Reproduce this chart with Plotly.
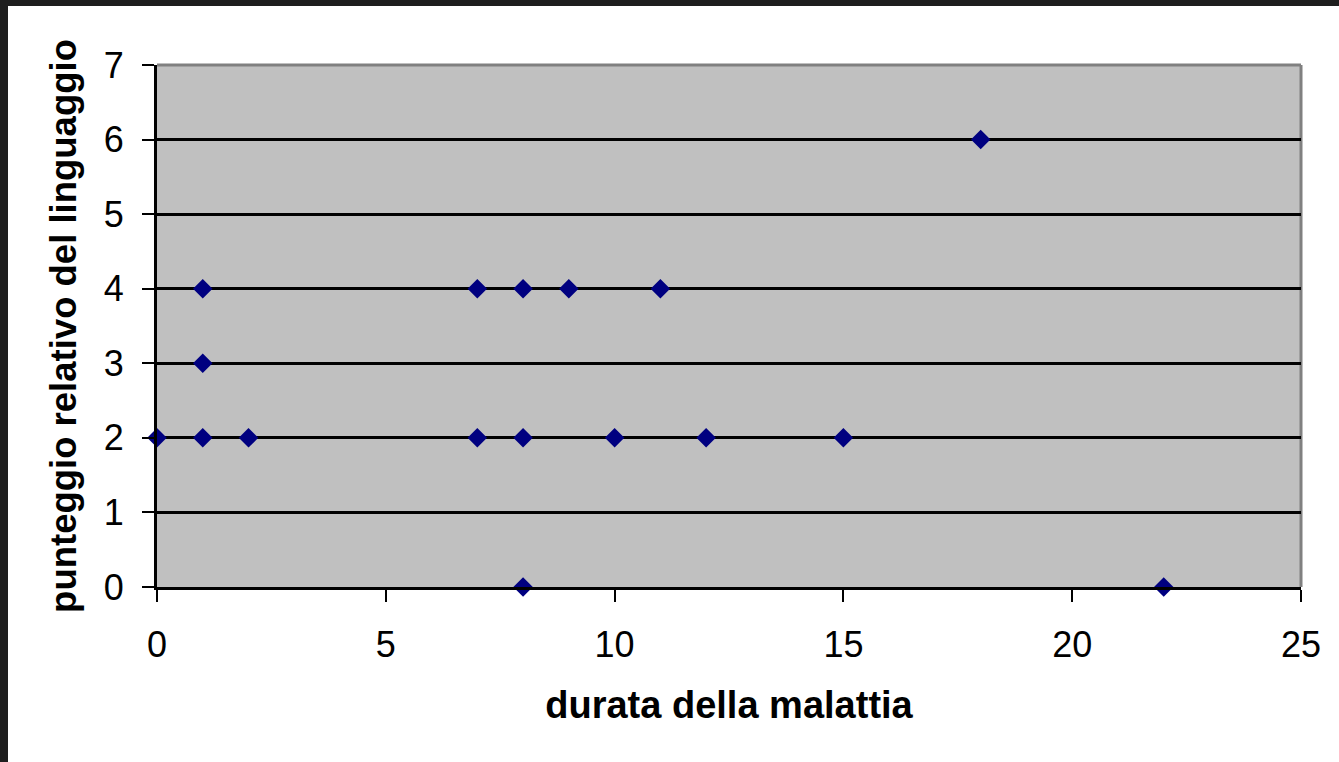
import plotly.graph_objects as go

# Durata della malattia (anni) e punteggio del linguaggio
durata = [0, 1, 1, 1, 2, 7, 7, 8, 8, 8, 9, 10, 11, 12, 15, 18, 22]
punteggio = [2, 2, 3, 4, 2, 4, 2, 4, 2, 0, 4, 2, 4, 2, 2, 6, 0]

x_ticks = [0, 5, 10, 15, 20, 25]
y_ticks = [0, 1, 2, 3, 4, 5, 6, 7]

W, H = 1339, 762
L, R, T, B = 157, 38, 65, 175
pw, ph = W - L - R, H - T - B

font_family = "Liberation Sans, Arial, sans-serif"

fig = go.Figure()
fig.add_trace(go.Scatter(
    x=durata, y=punteggio, mode="markers",
    marker=dict(symbol="diamond", size=15, color="#000080",
                line=dict(width=0)),
    cliponaxis=False, showlegend=False,
))

fig.update_layout(
    width=W, height=H,
    margin=dict(l=L, r=R, t=T, b=B, autoexpand=False),
    paper_bgcolor="white", plot_bgcolor="#c0c0c0",
    font=dict(family=font_family, color="black", size=36),
    xaxis=dict(
        range=[0, 25], tickvals=x_ticks, ticks="outside", ticklen=12,
        tickwidth=2, tickcolor="black", showgrid=False, zeroline=False,
        showline=True, linecolor="black", linewidth=3,
        tickfont=dict(size=36), ticklabelstandoff=12,
        title=dict(text="<b>durata della malattia</b>",
                   font=dict(size=38), standoff=28),
    ),
    yaxis=dict(
        range=[0, 7], tickvals=y_ticks, ticks="outside", ticklen=12,
        tickwidth=2, tickcolor="black", showgrid=True, gridcolor="black",
        gridwidth=3, zeroline=False, showline=True, linecolor="black",
        linewidth=3, tickfont=dict(size=36), ticklabelstandoff=11,
        title=dict(text="<b>punteggio relativo del linguaggio</b>",
                   font=dict(size=36.5), standoff=16),
    ),
)

# Bordo grigio superiore e destro dell'area del grafico
fig.add_shape(type="line", xref="paper", yref="paper", x0=0, x1=1, y0=1, y1=1,
              line=dict(color="#808080", width=3), layer="below")
fig.add_shape(type="line", xref="paper", yref="paper", x0=1, x1=1, y0=0, y1=1,
              line=dict(color="#808080", width=3), layer="below")

# Cornice scura sul lato sinistro e in alto
def px_x(p):
    return (p - L) / pw

def px_y(p):
    return (H - B - p) / ph

fig.add_shape(type="rect", xref="paper", yref="paper",
              x0=px_x(0), x1=px_x(8), y0=px_y(0), y1=px_y(H),
              fillcolor="#1e1e1e", line=dict(width=0), layer="above")
fig.add_shape(type="rect", xref="paper", yref="paper",
              x0=px_x(0), x1=px_x(W), y0=px_y(0), y1=px_y(6),
              fillcolor="#1e1e1e", line=dict(width=0), layer="above")

fig.write_html("out.html")
